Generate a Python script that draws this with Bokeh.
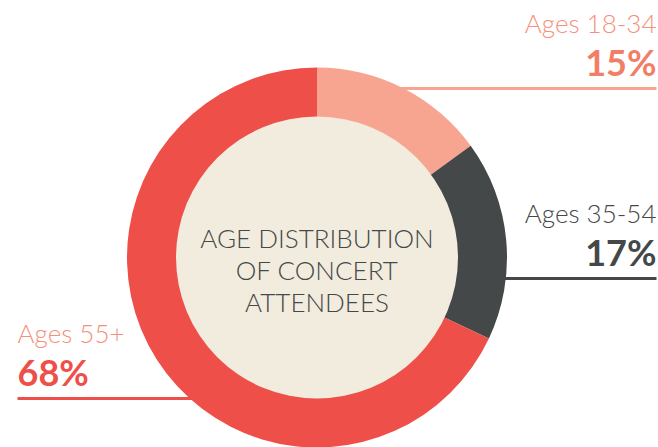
import numpy as np
from bokeh.plotting import figure
from bokeh.models import Range1d, ColumnDataSource
from bokeh.core.properties import value
from bokeh.embed import file_html
from bokeh.resources import INLINE

# ---- data ----
categories = ["Ages 18-34", "Ages 35-54", "Ages 55+"]
shares = [15, 17, 68]
title_lines = ["AGE DISTRIBUTION", "OF CONCERT", "ATTENDEES"]

# ---- styles ----
ring_colors = ["#F7A591", "#454849", "#EF4F49"]
label_colors = ["#F5907A", "#454849", "#F5907A"]
pct_colors = ["#F17E67", "#454849", "#EF4F49"]
line_colors = ["#F7A591", "#454849", "#EF4F49"]
inner_color = "#F2ECDE"

W, H = 658, 447
def sy(y):  # screen y -> data y
    return H - y

cx, cy = 316.5, sy(257)
r_out, r_in = 190, 141

LAB_SIZE, PCT_SIZE, TITLE_SIZE = 26, 36, 26
def ty(y, size):  # baseline compensation for svg text placement
    return sy(y - 0.37 * size)

# label layout (screen coords)
lab_x = [656, 656, 17]
lab_align = ["right", "right", "left"]
lab_y = [32, 222, 342]
pct_y = [75, 265, 385]
line_y = [88, 278, 398]
line_x0 = [380, 480, 17]
line_x1 = [656, 656, 260]

p = figure(width=W, height=H, output_backend="svg", toolbar_location=None,
           x_range=Range1d(0, W), y_range=Range1d(0, H),
           min_border=0, background_fill_color="white", border_fill_color="white")
p.axis.visible = False
p.grid.visible = False
p.outline_line_color = None

# leader lines (drawn beneath ring)
p.segment(x0=line_x0, y0=[sy(v) for v in line_y], x1=line_x1, y1=[sy(v) for v in line_y],
          line_color=line_colors, line_width=3)

# ring
fr = np.array(shares, dtype=float) / sum(shares)
cum = np.concatenate([[0], np.cumsum(fr)])
start = np.pi / 2 - 2 * np.pi * cum[:-1]
end = np.pi / 2 - 2 * np.pi * cum[1:]
src = ColumnDataSource(dict(x=[cx] * 3, y=[cy] * 3, start=start, end=end, color=ring_colors))
p.annular_wedge(x="x", y="y", inner_radius=r_in - 2, outer_radius=r_out, start_angle="start",
                end_angle="end", direction="clock", fill_color="color", line_color=None, source=src)
p.scatter(x=[cx], y=[cy], size=2 * r_in, fill_color=inner_color, line_color=None)

# labels
p.text(x=lab_x, y=[ty(v, LAB_SIZE) for v in lab_y], text=categories, text_color=label_colors,
       text_align=lab_align, text_baseline="alphabetic", text_font=value("Lato Light"),
       text_font_size=f"{LAB_SIZE}px")
p.text(x=lab_x, y=[ty(v, PCT_SIZE) for v in pct_y], text=[f"{s}%" for s in shares],
       text_color=pct_colors, text_align=lab_align, text_baseline="alphabetic",
       text_font=value("Lato"), text_font_size=f"{PCT_SIZE}px", text_font_style="bold")

# centre title
title_y = [247, 279, 311]
p.text(x=[cx] * 3, y=[ty(v, TITLE_SIZE) for v in title_y], text=title_lines, text_color="#454849",
       text_align="center", text_baseline="alphabetic", text_font=value("Lato Light"),
       text_font_size=f"{TITLE_SIZE}px")

open("out.html", "w").write(file_html(p, INLINE))
